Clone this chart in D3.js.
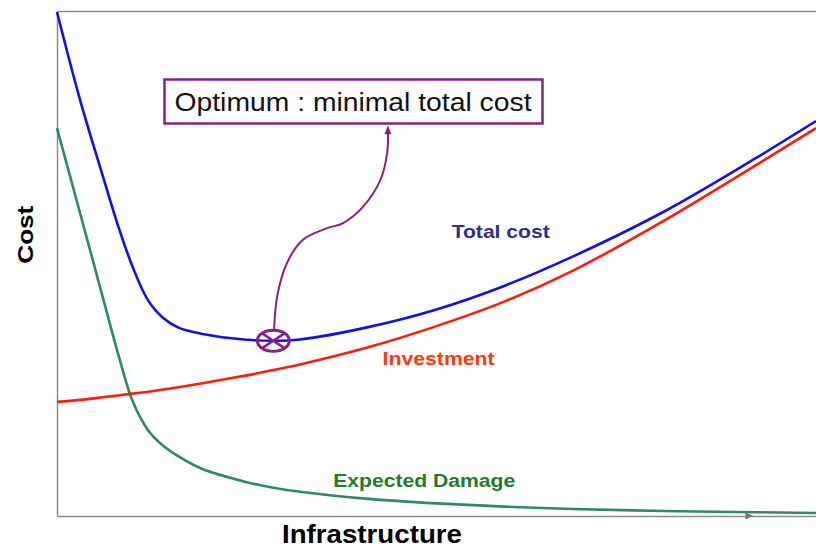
<!DOCTYPE html>
<html>
<head>
<meta charset="utf-8">
<script src="https://cdn.jsdelivr.net/npm/d3@7"></script>
<style>
  html, body { margin: 0; padding: 0; background: #fff; }
  svg { display: block; font-family: Arial, "Liberation Sans", sans-serif; }
</style>
</head>
<body>
<svg id="chart"></svg>
<script>
// values (cost vs infrastructure, both 0..100)
const infrastructure = [0, 3, 6, 8, 10, 12, 14, 16, 19, 25, 28.5, 32, 41, 50, 59, 68, 80, 92, 100];
const totalCost      = [99.8, 82.6, 67.5, 57.7, 49.2, 42.7, 39.2, 37.3, 36.1, 34.9, 34.7, 34.95, 37.4, 40.9, 45.6, 51.4, 60.3, 70.8, 78.2];
const investment     = [22.6, 23.0, 23.5, 23.85, 24.25, 24.6, 25.05, 25.5, 26.25, 27.85, 28.9, 30.0, 33.4, 37.6, 42.5, 48.6, 58.5, 69.4, 76.8];
const expectedDamage = [76.8, 60.2, 43.5, 32.4, 22.6, 17.0, 13.9, 11.8, 9.4, 6.7, 5.6, 4.8, 3.4, 2.5, 1.85, 1.4, 1.0, 0.75, 0.6];

// optimum point and the curly arrow pointing to the note box
const optimum = {x: 28.5, y: 34.7};
const arrowX = [28.6, 29.0, 30.3, 32.4, 35.6, 37.7, 40.3, 42.6, 43.5, 43.6];
const arrowY = [36.8, 43.4, 50.1, 54.7, 57.0, 58.0, 61.2, 66.5, 71.9, 76.8];

const width = 816, height = 548;
const margin = {top: 11, right: 0, bottom: 32, left: 57};

const svg = d3.select("#chart")
    .attr("width", width)
    .attr("height", height);

const x = d3.scaleLinear().domain([0, 100]).range([margin.left, width - margin.right]);
const y = d3.scaleLinear().domain([0, 100]).range([height - margin.bottom, margin.top]);

// frame: left, bottom and top lines, no ticks
svg.append("g")
    .attr("transform", `translate(${margin.left},0)`)
    .call(d3.axisLeft(y).ticks(0).tickSizeOuter(0))
    .select(".domain").attr("stroke", "#8c8c8c").attr("stroke-width", 1.5);

svg.append("g")
    .attr("transform", `translate(0,${y(0)})`)
    .call(d3.axisBottom(x).ticks(0).tickSizeOuter(0))
    .select(".domain").attr("stroke", "#8c8c8c").attr("stroke-width", 1.5);

svg.append("g")
    .attr("transform", `translate(0,${y(100)})`)
    .call(d3.axisTop(x).ticks(0).tickSizeOuter(0))
    .select(".domain").attr("stroke", "#8c8c8c").attr("stroke-width", 1.5);

// little arrow head on the x axis
const ax = x(91.5), ay = y(0);
svg.append("path")
    .attr("d", `M${ax - 6},${ay - 3.5}L${ax + 2},${ay}L${ax - 6},${ay + 3.5}Z`)
    .attr("fill", "#777");

// curves
const line = d3.line()
    .x((d, i) => x(infrastructure[i]))
    .y(d => y(d))
    .curve(d3.curveCatmullRom.alpha(0.5));

const series = [
    {values: expectedDamage, color: "#2e8b5f"},
    {values: investment, color: "#ff1a0a"},
    {values: totalCost, color: "#1010ee"}
];

svg.selectAll(".curve")
    .data(series)
    .join("path")
    .attr("class", "curve")
    .attr("d", d => line(d.values))
    .attr("fill", "none")
    .attr("stroke", d => d.color)
    .attr("stroke-width", 2.6);

// series labels
const labels = [
    {text: "Total cost", x: 52.0, y: 55.0, w: 98, color: "#2f2f8f"},
    {text: "Investment", x: 42.9, y: 29.9, w: 112, color: "#ff3a0a"},
    {text: "Expected Damage", x: 36.4, y: 5.7, w: 182, color: "#1f7d2a"}
];

svg.selectAll(".lbl")
    .data(labels)
    .join("text")
    .attr("class", "lbl")
    .attr("x", d => x(d.x))
    .attr("y", d => y(d.y))
    .attr("textLength", d => d.w)
    .attr("lengthAdjust", "spacingAndGlyphs")
    .attr("font-size", 18)
    .attr("font-weight", "bold")
    .attr("fill", d => d.color)
    .text(d => d.text);

// axis titles
svg.append("text")
    .attr("transform", `translate(33,${y(55.7)}) rotate(-90)`)
    .attr("text-anchor", "middle")
    .attr("font-size", 22)
    .attr("font-weight", "bold")
    .attr("textLength", 58)
    .attr("lengthAdjust", "spacingAndGlyphs")
    .text("Cost");

svg.append("text")
    .attr("x", x(41.5))
    .attr("y", 543)
    .attr("text-anchor", "middle")
    .attr("font-size", 25)
    .attr("font-weight", "bold")
    .attr("textLength", 180)
    .attr("lengthAdjust", "spacingAndGlyphs")
    .text("Infrastructure");

// annotation: marker on the optimum
const purple = "#862186";
const ox = x(optimum.x), oy = y(optimum.y);
const rx = 16, ry = 10.5;
const mark = svg.append("g").attr("transform", `translate(${ox},${oy})`);
mark.append("ellipse")
    .attr("rx", rx).attr("ry", ry)
    .attr("fill", "none")
    .attr("stroke", purple)
    .attr("stroke-width", 3);
mark.append("path")
    .attr("d", `M${-rx * 0.7},${-ry * 0.7}L${rx * 0.7},${ry * 0.7}M${rx * 0.7},${-ry * 0.7}L${-rx * 0.7},${ry * 0.7}`)
    .attr("stroke", purple)
    .attr("stroke-width", 2.5);

// curly arrow
const arrowLine = d3.line()
    .x(d => x(d))
    .y((d, i) => y(arrowY[i]))
    .curve(d3.curveCatmullRom.alpha(0.5));
svg.append("path")
    .attr("d", arrowLine(arrowX))
    .attr("fill", "none")
    .attr("stroke", purple)
    .attr("stroke-width", 2);

const tipX = x(arrowX[arrowX.length - 1]), tipY = y(arrowY[arrowY.length - 1]);
svg.append("path")
    .attr("d", `M${tipX},${tipY - 3}L${tipX - 3.5},${tipY + 6}L${tipX + 3.5},${tipY + 6}Z`)
    .attr("fill", purple);

// note box
svg.append("rect")
    .attr("x", 164.5)
    .attr("y", 79.5)
    .attr("width", 378)
    .attr("height", 44)
    .attr("fill", "#fff")
    .attr("stroke", purple)
    .attr("stroke-width", 2.5);

svg.append("text")
    .attr("x", 353)
    .attr("y", 111)
    .attr("text-anchor", "middle")
    .attr("font-size", 25)
    .attr("textLength", 357)
    .attr("lengthAdjust", "spacingAndGlyphs")
    .attr("fill", "#111")
    .text("Optimum : minimal total cost");
</script>
</body>
</html>
